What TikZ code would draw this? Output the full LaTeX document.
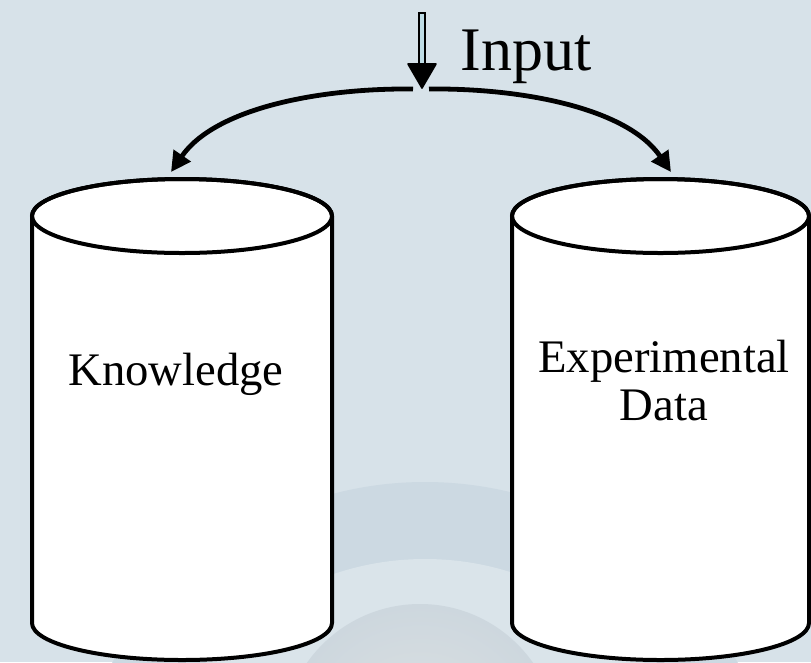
\documentclass[tikz,border=0pt]{standalone}
\usepackage{fontspec}
\setmainfont{Liberation Serif}
\usetikzlibrary{arrows.meta}
\definecolor{bgblue}{HTML}{D7E2E9}
\definecolor{bandblue}{HTML}{CCD9E2}
\definecolor{haloblue}{HTML}{DAE4EA}
\definecolor{globeA}{HTML}{DDE1E2}
\definecolor{globeB}{HTML}{CDD7DE}
\definecolor{shaftfill}{HTML}{BFDDE6}
\tikzset{
  cylbody/.style={fill=white, draw=black, line width=3pt, line join=round},
  cyltop/.style={draw=black, line width=3pt},
  label/.style={font=\fontsize{35pt}{36pt}\selectfont, inner sep=0pt, align=center},
  flow/.style={draw=black, line width=3.6pt,
    -{Triangle[length=15pt, width=15pt]}},
}
\begin{document}
\begin{tikzpicture}[x=0.75pt, y=-0.75pt]
  % page and backdrop
  \useasboundingbox (0,0) rectangle (811,662);
  \fill[bgblue] (0,0) rectangle (811,662);
  \begin{scope}
    \clip (0,0) rectangle (811,662);
    \fill[bandblue] (425,843) circle[radius=361];
    \fill[haloblue] (425,843) circle[radius=284];
    \shade[inner color=globeA, outer color=globeB] (420,742) circle[radius=138];
  \end{scope}

  % the two storage drums
  \foreach \cx/\rx in {182/150, 660.5/148.5}{
    \path[cylbody] ({\cx-\rx},216) -- ({\cx-\rx},623)
      arc[start angle=180, end angle=0, x radius=\rx, y radius=37]
      -- ({\cx+\rx},216)
      arc[start angle=360, end angle=180, x radius=\rx, y radius=37] -- cycle;
    \draw[cyltop] (\cx,216) ellipse[x radius=\rx, y radius=37];
  }

  % labels
  \node[label, anchor=base] (kb) at (176,385) {Knowledge};
  \node[label, anchor=north] (ed) at (664,340) {Experimental\\Data};
  \node[font=\fontsize{46.5pt}{50pt}\selectfont, inner sep=0pt, anchor=base] (inp) at (526,70) {Input};

  % anchor points for the connectors
  \coordinate (splitL) at (413,89);
  \coordinate (splitR) at (429,89);
  \coordinate (kbIn) at (171,172);
  \coordinate (edIn) at (671,172);

  % incoming input arrow
  \filldraw[fill=shaftfill, draw=black, line width=1.4pt]
    (419,13) -- (425,13) -- (425,64) -- (419,64) -- cycle;
  \filldraw[fill=black, draw=black, line width=1.2pt, line join=round]
    (408,64) -- (436,64) -- (422,88) -- cycle;
  \coordinate (inTip) at (422,88);

  % split into the two stores
  \draw[flow] (splitL) .. controls (320,88) and (215,108) .. (kbIn);
  \draw[flow] (splitR) .. controls (522,88) and (627,108) .. (edIn);
\end{tikzpicture}
\end{document}
